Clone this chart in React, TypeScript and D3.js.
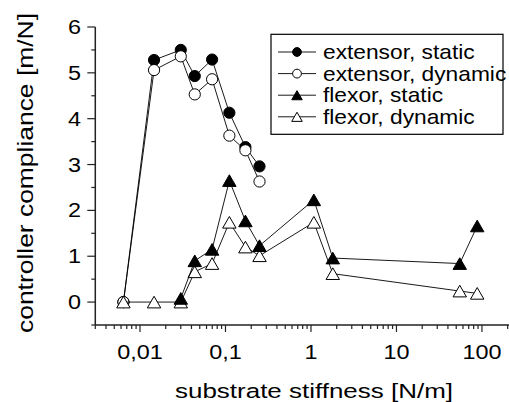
import React from "react";
import * as d3 from "d3";

const stiffness = [0.0064, 0.0146, 0.03, 0.0437, 0.0697, 0.111, 0.171, 0.25, 1.08, 1.8, 55, 88];
const extensorStatic: (number | null)[] = [0, 5.28, 5.5, 4.93, 5.29, 4.13, 3.38, 2.96, null, null, null, null];
const extensorDynamic: (number | null)[] = [0, 5.06, 5.36, 4.53, 4.86, 3.63, 3.31, 2.63, null, null, null, null];
const flexorStatic: (number | null)[] = [null, null, 0.08, 0.9, 1.15, 2.65, 1.77, 1.23, 2.23, 0.96, 0.84, 1.66];
const flexorDynamic: (number | null)[] = [0, 0, 0.0, 0.66, 0.84, 1.74, 1.2, 1.01, 1.74, 0.62, 0.24, 0.19];

const xTickValues = [0.01, 0.1, 1, 10, 100];
const xTickLabels = ["0,01", "0,1", "1", "10", "100"];
const yTickValues = [0, 1, 2, 3, 4, 5, 6];
const yTickLabels = ["0", "1", "2", "3", "4", "5", "6"];
const legendLabels = ["extensor, static", "extensor, dynamic", "flexor, static", "flexor, dynamic"];

const W = 509;
const H = 402;
const FONT = "'Liberation Sans', Arial, Helvetica, sans-serif";

type Kind = "circle" | "triangle";

function Marker({ kind, filled, x, y, r }: { kind: Kind; filled: boolean; x: number; y: number; r: number }) {
  const fill = filled ? "#000" : "#fff";
  if (kind === "circle") {
    return <circle cx={x} cy={y} r={r} fill={fill} stroke="#000" strokeWidth={1} />;
  }
  const side = r * 2.4;
  const h = (side * Math.sqrt(3)) / 2;
  const d = `M${x},${y - h / 2}L${x + side / 2},${y + h / 2}L${x - side / 2},${y + h / 2}Z`;
  return <path d={d} fill={fill} stroke="#000" strokeWidth={1} />;
}

export default function App() {
  const x = d3.scaleLog().domain([0.003, 210]).range([95.3, 509.5]);
  const y = d3.scaleLinear().domain([-0.5, 6]).range([325, 27]);

  const series = [
    { values: extensorStatic, kind: "circle" as Kind, filled: true },
    { values: extensorDynamic, kind: "circle" as Kind, filled: false },
    { values: flexorDynamic, kind: "triangle" as Kind, filled: false },
    { values: flexorStatic, kind: "triangle" as Kind, filled: true },
  ];
  const legendOrder = [
    { kind: "circle" as Kind, filled: true },
    { kind: "circle" as Kind, filled: false },
    { kind: "triangle" as Kind, filled: true },
    { kind: "triangle" as Kind, filled: false },
  ];

  const line = d3
    .line<[number, number]>()
    .x((d) => x(d[0]))
    .y((d) => y(d[1]));

  const [d0, d1] = x.domain();
  const minorX: number[] = [];
  for (let e = -3; e <= 2; e++) {
    for (let m = 2; m <= 9; m++) {
      const v = m * Math.pow(10, e);
      if (v >= d0 && v <= d1) minorX.push(v);
    }
  }
  const minorY: number[] = [];
  for (let v = -0.5; v < 6; v += 1) minorY.push(v);

  const xAxisY = 325;
  const yAxisX = 95.3;

  return (
    <svg
      width={W}
      height={H}
      style={{ position: "absolute", left: 0, top: 0, background: "#fff" }}
      fontFamily={FONT}
    >
      <rect x={0} y={0} width={W} height={H} fill="#fff" />

      {series.map((s, si) => {
        const pts: [number, number][] = [];
        s.values.forEach((v, i) => {
          if (v !== null) pts.push([stiffness[i], v]);
        });
        return (
          <g key={si}>
            <path d={line(pts) || ""} fill="none" stroke="#000" strokeWidth={0.9} />
            {pts.map((p, i) => (
              <Marker key={i} kind={s.kind} filled={s.filled} x={x(p[0])} y={y(p[1])} r={5.6} />
            ))}
          </g>
        );
      })}

      <line x1={yAxisX} x2={yAxisX} y1={y(6)} y2={xAxisY} stroke="#222" strokeWidth={1.5} />
      <line x1={yAxisX} x2={W} y1={xAxisY} y2={xAxisY} stroke="#222" strokeWidth={1.5} />
      {yTickValues.map((v, i) => (
        <g key={"yt" + i}>
          <line x1={yAxisX - 8} x2={yAxisX} y1={y(v)} y2={y(v)} stroke="#222" strokeWidth={1.2} />
          <text
            transform={`translate(81,${y(v)}) scale(1.2,1)`}
            textAnchor="end"
            dy="0.36em"
            fontSize={19.5}
            fill="#000"
          >
            {yTickLabels[i]}
          </text>
        </g>
      ))}
      {minorY.map((v, i) => (
        <line key={"ym" + i} x1={yAxisX - 4} x2={yAxisX} y1={y(v)} y2={y(v)} stroke="#222" strokeWidth={1.2} />
      ))}
      {xTickValues.map((v, i) => (
        <g key={"xt" + i}>
          <line x1={x(v)} x2={x(v)} y1={xAxisY} y2={xAxisY + 7} stroke="#222" strokeWidth={1.2} />
          <text
            transform={`translate(${x(v)},358.5) scale(1.2,1)`}
            textAnchor="middle"
            fontSize={19.5}
            fill="#000"
          >
            {xTickLabels[i]}
          </text>
        </g>
      ))}
      {minorX.map((v, i) => (
        <line key={"xm" + i} x1={x(v)} x2={x(v)} y1={xAxisY} y2={xAxisY + 4} stroke="#222" strokeWidth={1.2} />
      ))}

      <text
        x={314}
        y={398}
        textAnchor="middle"
        fontSize={20.5}
        textLength={278}
        lengthAdjust="spacingAndGlyphs"
        fill="#000"
      >
        substrate stiffness [N/m]
      </text>
      <text
        transform="translate(33,173) rotate(-90)"
        textAnchor="middle"
        fontSize={21.5}
        textLength={320}
        lengthAdjust="spacingAndGlyphs"
        fill="#000"
      >
        controller compliance [m/N]
      </text>

      <rect x={271} y={34.3} width={232} height={100} fill="#fff" stroke="#000" strokeWidth={1.2} />
      {legendOrder.map((l, i) => {
        const cy = 52 + i * 21.6;
        return (
          <g key={"lg" + i}>
            <line x1={278} x2={316} y1={cy} y2={cy} stroke="#000" strokeWidth={0.9} />
            <Marker kind={l.kind} filled={l.filled} x={297} y={cy} r={4.4} />
            <text transform={`translate(323,${cy + 7}) scale(1.11,1)`} fontSize={20.5} fill="#000">
              {legendLabels[i]}
            </text>
          </g>
        );
      })}
    </svg>
  );
}
